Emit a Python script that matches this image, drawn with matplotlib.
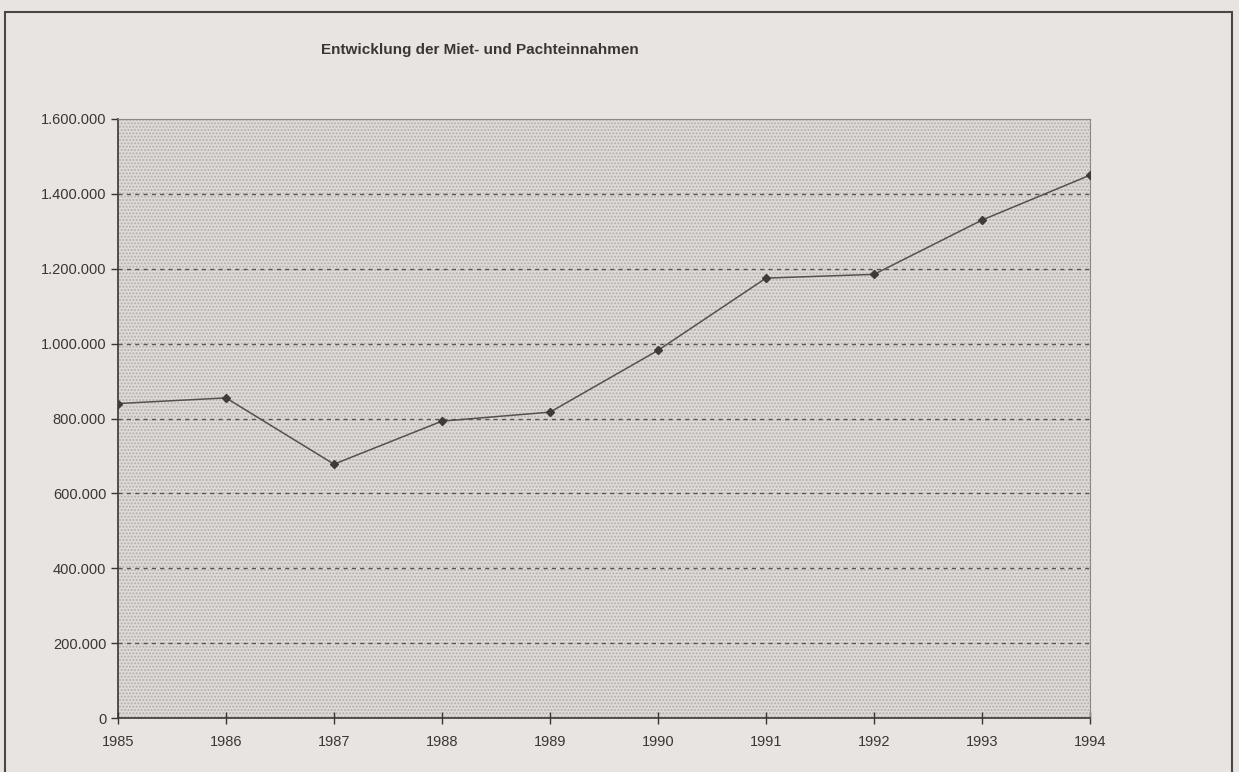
import matplotlib.pyplot as plt
from matplotlib.patches import Rectangle
from matplotlib.ticker import FuncFormatter

jahre = [1985, 1986, 1987, 1988, 1989, 1990, 1991, 1992, 1993, 1994]
einnahmen = [840000, 855000, 678000, 793000, 817000, 982000, 1175000, 1185000, 1330000, 1450000]
y_ticks = [0, 200000, 400000, 600000, 800000, 1000000, 1200000, 1400000, 1600000]

plt.rcParams['font.family'] = ['Liberation Sans', 'DejaVu Sans']

fig = plt.figure(figsize=(12.39, 7.72), dpi=100, facecolor='#e7e4e1')
ax = fig.add_axes([118/1239, 54/772, (1090-118)/1239, (718-119)/772])

# stippled plot area
ax.set_facecolor('#dedbd8')
ax.add_patch(Rectangle((0, 0), 1, 1, transform=ax.transAxes, facecolor='none',
                       hatch='.....', edgecolor='#b3afab', linewidth=0, zorder=0))

for y in y_ticks[1:-1]:
    ax.axhline(y, color='#5a5652', linestyle=(0, (3, 3)), linewidth=1.0, zorder=1)

ax.plot(jahre, einnahmen, color='#55514d', linewidth=1.1, marker='D', markersize=4,
        markerfacecolor='#3f3b38', markeredgecolor='#3f3b38', zorder=3)

ax.set_xlim(1985, 1994)
ax.set_ylim(0, 1600000)
ax.set_xticks(jahre)
ax.set_yticks(y_ticks)
ax.yaxis.set_major_formatter(FuncFormatter(lambda v, p: f"{int(v):,}".replace(",", ".")))
ax.tick_params(axis='y', direction='out', length=5, colors='#3a3633', labelsize=10.5, width=1)
ax.tick_params(axis='x', direction='inout', length=8, colors='#3a3633', labelsize=10.5, pad=8, width=1)
for s in ['left', 'bottom']:
    ax.spines[s].set_color('#3a3633')
    ax.spines[s].set_linewidth(1.2)
for s in ['top', 'right']:
    ax.spines[s].set_color('#8c8884')
    ax.spines[s].set_linewidth(0.8)

fig.text(480/1239, 1 - 50/772, 'Entwicklung der Miet- und Pachteinnahmen', ha='center', va='center',
         fontsize=11, fontweight='bold', color='#3a3633')

# outer frame of the scanned chart box
fig.patches.append(Rectangle((5/1239, -0.01), (1232-5)/1239, 1 - 12/772 + 0.01, transform=fig.transFigure,
                             fill=False, edgecolor='#4a4643', linewidth=1.5))

fig.savefig('out.png', dpi=100, facecolor=fig.get_facecolor())
